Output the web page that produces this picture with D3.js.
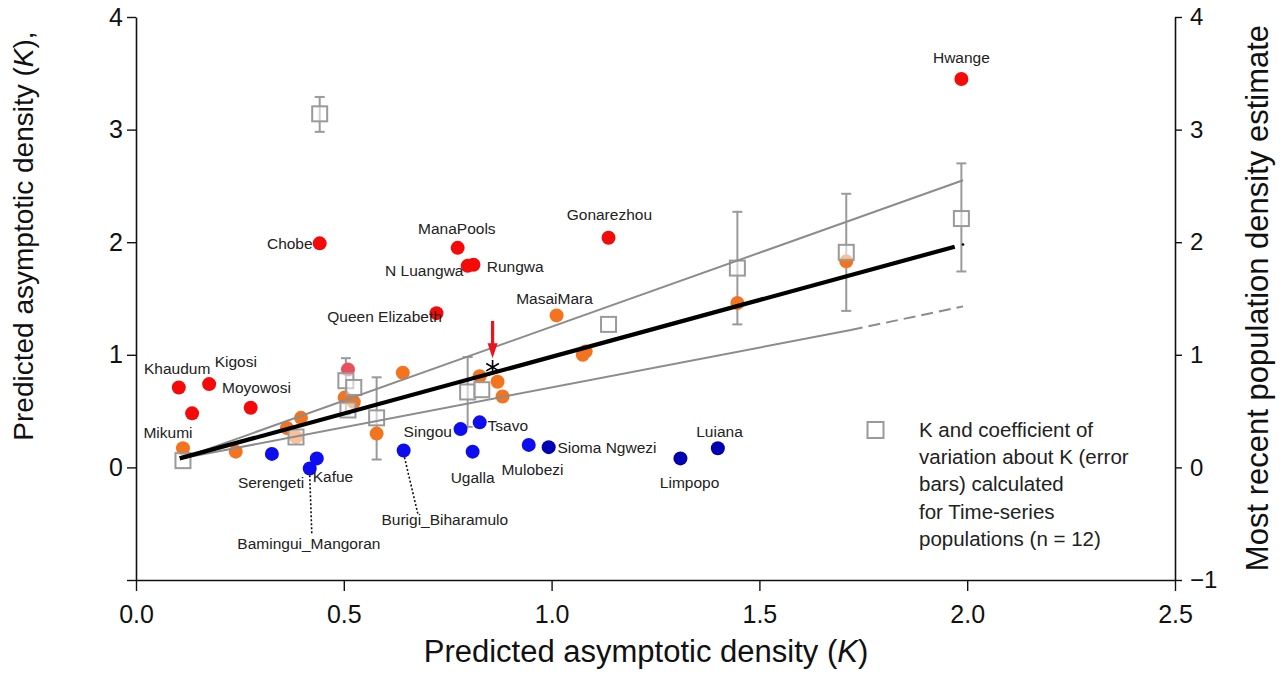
<!DOCTYPE html>
<html>
<head>
<meta charset="utf-8">
<script src="https://cdn.jsdelivr.net/npm/d3@7"></script>
<style>
  html, body { margin: 0; padding: 0; background: #fff; }
  svg { display: block; font-family: "Liberation Sans", Arial, sans-serif; }
</style>
</head>
<body>
<svg id="chart" width="1287" height="685"></svg>
<script>
// ---------------- data ----------------
// red populations (above the line)
const redNames = ["Hwange","Chobe","ManaPools","N Luangwa","Rungwa","Gonarezhou","Queen Elizabeth","Khaudum","Kigosi","Red6","Moyowosi","Red10"];
const redX = [1.986, 0.442, 0.774, 0.798, 0.812, 1.137, 0.723, 0.103, 0.176, 0.135, 0.276, 0.510];
const redY = [3.45, 1.99, 1.95, 1.79, 1.80, 2.04, 1.37, 0.71, 0.74, 0.48, 0.53, 0.87];
const redTone = ["r","r","r","r","r","r","r","r","r","r","r","p"];

// orange populations (time-series)
const orangeX = [0.113, 0.240, 0.363, 0.397, 0.385, 0.502, 0.524, 0.642, 0.579, 1.012, 1.075, 1.082, 0.827, 0.870, 0.882, 1.447, 1.709];
const orangeY = [0.17, 0.14, 0.35, 0.44, 0.27, 0.62, 0.58, 0.84, 0.30, 1.35, 1.00, 1.03, 0.81, 0.76, 0.63, 1.46, 1.83];

// blue populations (below the line)
const blueX = [0.327, 0.418, 0.435, 0.644, 0.781, 0.827, 0.810, 0.945, 0.993, 1.310, 1.400];
const blueY = [0.12, -0.01, 0.08, 0.15, 0.34, 0.40, 0.14, 0.20, 0.18, 0.08, 0.17];
const blueTone = ["b","b","b","b","b","b","b","b","d","d","d"];

// squares: K with coefficient of variation (error bars)
const sqX  = [0.113, 0.385, 0.442, 0.505, 0.524, 0.510, 0.579, 0.798, 0.832, 1.137, 1.447, 1.709, 1.986];
const sqY  = [0.06, 0.27, 3.14, 0.77, 0.71, 0.51, 0.44, 0.67, 0.69, 1.27, 1.77, 1.91, 2.21];
const sqLo = [null, null, 2.98, 0.47, null, null, 0.07, 0.36, null, null, 1.27, 1.39, 1.74];
const sqHi = [null, null, 3.29, 0.97, null, null, 0.80, 0.98, null, null, 2.27, 2.43, 2.70];

// fitted line and bounds (x, y endpoints)
const fitX = [0.105, 1.97];
const fitY = [0.08, 1.96];
const upperX = [0.11, 1.99];
const upperY = [0.08, 2.55];
const lowerX = [0.11, 1.72, 1.99];
const lowerY = [0.08, 1.22, 1.43];
const fitEnd = [1.99, 1.98];

// marked population (asterisk + arrow)
const starPt = [0.858, 0.89];
const arrowFrom = [0.858, 1.30];
const arrowTo = [0.858, 0.97];

// site labels (data coordinates)
const labelText = ["Hwange","Chobe","ManaPools","N Luangwa","Rungwa","Gonarezhou","Queen Elizabeth","MasaiMara","Khaudum","Kigosi","Moyowosi","Mikumi","Serengeti","Kafue","Bamingui_Mangoran","Burigi_Biharamulo","Singou","Tsavo","Ugalla","Mulobezi","Sioma Ngwezi","Luiana","Limpopo"];
const labelX = [1.986, 0.425, 0.772, 0.788, 0.844, 1.139, 0.736, 1.007, 0.099, 0.240, 0.207, 0.077, 0.325, 0.474, 0.416, 0.743, 0.702, 0.846, 0.810, 0.954, 1.014, 1.404, 1.332];
const labelY = [3.644, 1.991, 2.124, 1.751, 1.787, 2.249, 1.342, 1.502, 0.880, 0.942, 0.711, 0.311, -0.133, -0.080, -0.676, -0.462, 0.320, 0.373, -0.089, -0.018, 0.178, 0.320, -0.133];
const labelAnchor = ["middle","end","middle","end","start","middle","end","middle","middle","middle","start","middle","middle","middle","middle","middle","middle","start","middle","middle","start","middle","middle"];

// dotted leader lines
const leaderX1 = [0.418, 0.646];
const leaderY1 = [-0.07, 0.09];
const leaderX2 = [0.423, 0.678];
const leaderY2 = [-0.59, -0.41];

// axes
const xTicks = [0, 0.5, 1.0, 1.5, 2.0, 2.5];
const yTicks = [-1, 0, 1, 2, 3, 4];
const legendLines = ["K and coefficient of", "variation about K (error", "bars) calculated", "for Time-series", "populations (n = 12)"];

// ---------------- drawing ----------------
const svg = d3.select("#chart");
const x = d3.scaleLinear().domain([0, 2.5]).range([136, 1175]);
const y = d3.scaleLinear().domain([-1, 4]).range([580, 17]);
const yR = d3.scaleLinear().domain([-1, 4]).range([580, 17]);

const colors = { r: "#f50a0a", p: "#e8505e", o: "#f4731e", b: "#0d0df0", d: "#0000b2" };
const R = 7;

// axes
const gx = svg.append("g").attr("transform", "translate(0,580)")
  .call(d3.axisBottom(x).tickValues(xTicks).tickFormat(d3.format(".1f")).tickSize(11).tickPadding(14).tickSizeOuter(0));
const gy = svg.append("g").attr("transform", "translate(136,0)")
  .call(d3.axisLeft(y).tickValues(yTicks).tickFormat(d => d === -1 ? "" : d3.format("d")(d)).tickSize(9).tickPadding(4).tickSizeOuter(0));
const gyr = svg.append("g").attr("transform", "translate(1175,0)")
  .call(d3.axisRight(yR).tickValues(yTicks).tickFormat(d3.format("d")).tickSize(7).tickPadding(8).tickSizeOuter(0));
[gx, gy, gyr].forEach(g => {
  g.selectAll("path.domain").attr("stroke", "#111").attr("stroke-width", 1.6);
  g.selectAll(".tick line").attr("stroke", "#111").attr("stroke-width", 1.4);
  g.selectAll(".tick text").attr("fill", "#111").attr("font-family", "Liberation Sans, Arial, sans-serif");
});
gx.selectAll(".tick text").attr("font-size", 25);
gy.selectAll(".tick text").attr("font-size", 25);
gyr.selectAll(".tick text").attr("font-size", 24);

// axis titles
const xt = svg.append("text").attr("x", 646).attr("y", 662).attr("text-anchor", "middle")
  .attr("font-size", 31).attr("fill", "#111");
xt.append("tspan").text("Predicted asymptotic density (");
xt.append("tspan").attr("font-style", "italic").text("K");
xt.append("tspan").text(")");

const yt = svg.append("text").attr("transform", "translate(33,236) rotate(-90)").attr("text-anchor", "middle")
  .attr("font-size", 28).attr("fill", "#111");
yt.append("tspan").text("Predicted asymptotic density (");
yt.append("tspan").attr("font-style", "italic").text("K");
yt.append("tspan").text("),");

svg.append("text").attr("transform", "translate(1268,298) rotate(-90)").attr("text-anchor", "middle")
  .attr("font-size", 31).attr("fill", "#111").text("Most recent population density estimate");

// error bars + squares
const sq = sqX.map((v, i) => ({ x: v, y: sqY[i], lo: sqLo[i], hi: sqHi[i] }));
const gErr = svg.append("g").attr("stroke", "#9a9a9a").attr("stroke-width", 2).attr("fill", "none");
sq.filter(d => d.lo !== null).forEach(d => {
  gErr.append("line").attr("x1", x(d.x)).attr("x2", x(d.x)).attr("y1", y(d.lo)).attr("y2", y(d.hi));
  [d.lo, d.hi].forEach(v => gErr.append("line").attr("x1", x(d.x) - 5).attr("x2", x(d.x) + 5).attr("y1", y(v)).attr("y2", y(v)));
});

// points
const redPts = redX.map((v, i) => ({ x: v, y: redY[i], c: colors[redTone[i]] }));
const orangePts = orangeX.map((v, i) => ({ x: v, y: orangeY[i], c: colors.o }));
const bluePts = blueX.map((v, i) => ({ x: v, y: blueY[i], c: colors[blueTone[i]] }));
const gPts = svg.append("g");
gPts.selectAll("circle.pt").data([...redPts, ...bluePts, ...orangePts]).join("circle")
  .attr("class", "pt").attr("cx", d => x(d.x)).attr("cy", d => y(d.y)).attr("r", R).attr("fill", d => d.c);

svg.append("g").selectAll("rect").data(sq).join("rect")
  .attr("x", d => x(d.x) - 7.5).attr("y", d => y(d.y) - 7.5).attr("width", 15).attr("height", 15)
  .attr("fill", "#fff").attr("fill-opacity", 0.55).attr("stroke", "#9a9a9a").attr("stroke-width", 2);

// regression lines
const lineGen = d3.line().x(d => x(d[0])).y(d => y(d[1]));
svg.append("path").attr("d", lineGen(upperX.map((v, i) => [v, upperY[i]])))
  .attr("fill", "none").attr("stroke", "#8c8c8c").attr("stroke-width", 2);
svg.append("path").attr("d", lineGen([[lowerX[0], lowerY[0]], [lowerX[1], lowerY[1]]]))
  .attr("fill", "none").attr("stroke", "#8c8c8c").attr("stroke-width", 2);
svg.append("path").attr("d", lineGen([[lowerX[1], lowerY[1]], [lowerX[2], lowerY[2]]]))
  .attr("fill", "none").attr("stroke", "#8c8c8c").attr("stroke-width", 2).attr("stroke-dasharray", "12,6");
svg.append("path").attr("d", lineGen(fitX.map((v, i) => [v, fitY[i]])))
  .attr("fill", "none").attr("stroke", "#000").attr("stroke-width", 4.2);
svg.append("circle").attr("cx", x(fitEnd[0])).attr("cy", y(fitEnd[1])).attr("r", 1.3).attr("fill", "#000");

// asterisk + arrow
svg.append("path").attr("d", d3.symbol(d3.symbolAsterisk, 150)())
  .attr("transform", `translate(${x(starPt[0])},${y(starPt[1])})`)
  .attr("stroke", "#000").attr("stroke-width", 1.6).attr("fill", "none");
const ax = x(arrowFrom[0]), ay1 = y(arrowFrom[1]), ay2 = y(arrowTo[1]);
svg.append("line").attr("x1", ax).attr("y1", ay1).attr("x2", ax).attr("y2", ay2 - 12)
  .attr("stroke", "#e8141e").attr("stroke-width", 3.2);
svg.append("path").attr("d", `M${ax - 5},${ay2 - 15} L${ax + 5},${ay2 - 15} L${ax},${ay2} Z`)
  .attr("fill", "#e8141e");

// leader lines
const leaders = leaderX1.map((v, i) => ({ x1: v, y1: leaderY1[i], x2: leaderX2[i], y2: leaderY2[i] }));
svg.append("g").selectAll("line").data(leaders).join("line")
  .attr("x1", d => x(d.x1)).attr("y1", d => y(d.y1)).attr("x2", d => x(d.x2)).attr("y2", d => y(d.y2))
  .attr("stroke", "#111").attr("stroke-width", 1.6).attr("stroke-dasharray", "2,2");

// labels
const labels = labelText.map((t, i) => ({ t, x: labelX[i], y: labelY[i], a: labelAnchor[i] }));
svg.append("g").selectAll("text").data(labels).join("text")
  .attr("x", d => x(d.x)).attr("y", d => y(d.y)).attr("dy", "0.35em")
  .attr("text-anchor", d => d.a).attr("font-size", 15.5).attr("fill", "#222").text(d => d.t);

// legend
svg.append("rect").attr("x", 867.5).attr("y", 422).attr("width", 16).attr("height", 16)
  .attr("fill", "#fff").attr("stroke", "#9a9a9a").attr("stroke-width", 2);
svg.append("g").selectAll("text").data(legendLines).join("text")
  .attr("x", 919).attr("y", (d, i) => 437 + i * 27.2).attr("font-size", 20.5).attr("fill", "#222").text(d => d);
</script>
</body>
</html>
